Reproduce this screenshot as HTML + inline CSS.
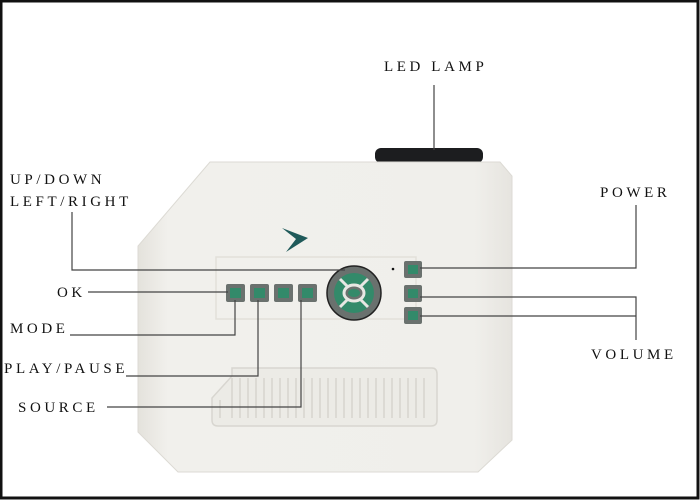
<!DOCTYPE html>
<html><head><style>
body{margin:0;background:#fff}
.wrap{position:relative;width:700px;height:500px;overflow:hidden;background:#fff}
svg{position:absolute;left:0;top:0}
text{font-family:"Liberation Serif",serif;font-size:15px;letter-spacing:3.6px;fill:#111}
</style></head><body><div class="wrap">
<svg width="700" height="500" viewBox="0 0 700 500">
<defs>
<linearGradient id="g" x1="0" y1="0" x2="1" y2="0">
<stop offset="0" stop-color="#e4e2dc"/><stop offset="0.08" stop-color="#f1f0ec"/><stop offset="0.9" stop-color="#f0efeb"/><stop offset="1" stop-color="#e6e4df"/></linearGradient>
</defs>
<rect x="1" y="1" width="697" height="497" fill="none" stroke="#111" stroke-width="3"/>
<rect x="375" y="148" width="108" height="15" rx="6" fill="#1c1d1f"/>
<polygon points="210,162 500,162 512,176 512,440 478,472 178,472 138,432 138,246" fill="url(#g)" stroke="#dcdad4" stroke-width="1"/>
<rect x="216" y="257" width="200" height="62" fill="none" stroke="#e2e0da" stroke-width="1.5"/>
<path d="M232,368 L432,368 Q437,368 437,374 L437,420 Q437,426 431,426 L218,426 Q212,426 212,420 L212,398 L232,376 Z" fill="#ecebe6" stroke="#d8d6d0" stroke-width="1.5"/>
<g stroke="#d6d4ce" stroke-width="1.5">
<line x1="232" y1="378" x2="232" y2="418"/><line x1="240" y1="378" x2="240" y2="418"/><line x1="248" y1="378" x2="248" y2="418"/><line x1="256" y1="378" x2="256" y2="418"/><line x1="264" y1="378" x2="264" y2="418"/><line x1="272" y1="378" x2="272" y2="418"/><line x1="280" y1="378" x2="280" y2="418"/><line x1="288" y1="378" x2="288" y2="418"/><line x1="296" y1="378" x2="296" y2="418"/><line x1="304" y1="378" x2="304" y2="418"/><line x1="312" y1="378" x2="312" y2="418"/><line x1="320" y1="378" x2="320" y2="418"/><line x1="328" y1="378" x2="328" y2="418"/><line x1="336" y1="378" x2="336" y2="418"/><line x1="344" y1="378" x2="344" y2="418"/><line x1="352" y1="378" x2="352" y2="418"/><line x1="360" y1="378" x2="360" y2="418"/><line x1="368" y1="378" x2="368" y2="418"/><line x1="376" y1="378" x2="376" y2="418"/><line x1="384" y1="378" x2="384" y2="418"/><line x1="392" y1="378" x2="392" y2="418"/><line x1="400" y1="378" x2="400" y2="418"/><line x1="408" y1="378" x2="408" y2="418"/><line x1="416" y1="378" x2="416" y2="418"/><line x1="424" y1="378" x2="424" y2="418"/><line x1="220" y1="400" x2="220" y2="418"/>
</g>
<polygon points="282,228 308,238 286,252 296,239" fill="#1f5a5a"/>
<g fill="#6a716e">
<rect x="226" y="284" width="19" height="18" rx="2"/><rect x="250" y="284" width="19" height="18" rx="2"/><rect x="274" y="284" width="19" height="18" rx="2"/><rect x="298" y="284" width="19" height="18" rx="2"/>
<rect x="404" y="261" width="18" height="17" rx="2"/><rect x="404" y="285" width="18" height="17" rx="2"/><rect x="404" y="307" width="18" height="17" rx="2"/>
</g>
<g fill="#338a6a">
<rect x="230" y="288" width="11" height="10"/><rect x="254" y="288" width="11" height="10"/><rect x="278" y="288" width="11" height="10"/><rect x="302" y="288" width="11" height="10"/>
<rect x="408" y="265" width="10" height="9"/><rect x="408" y="289" width="10" height="9"/><rect x="408" y="311" width="10" height="9"/>
</g>
<circle cx="354" cy="293" r="27" fill="#6a716e" stroke="#222" stroke-width="1.5"/>
<circle cx="354" cy="293" r="20" fill="#338a6a"/>
<g stroke="#e8e7e3" stroke-width="3"><line x1="340" y1="279" x2="368" y2="307"/><line x1="368" y1="279" x2="340" y2="307"/></g>
<ellipse cx="354" cy="293" rx="10" ry="8" fill="#6a716e" stroke="#e8e7e3" stroke-width="3"/>
<ellipse cx="354" cy="293" rx="6" ry="4" fill="#338a6a"/>
<circle cx="393" cy="269" r="1.3" fill="#111"/>
<g stroke="#444" stroke-width="1.2" fill="none">
<polyline points="434,85 434,150"/>
<polyline points="72,212 72,270 345,270"/>
<line x1="88" y1="292" x2="228" y2="292"/>
<polyline points="70,335 235,335 235,300"/>
<polyline points="126,376 258,376 258,300"/>
<polyline points="107,407 301,407 301,300"/>
<polyline points="420,268 636,268 636,205"/>
<polyline points="420,297 636,297 636,340"/>
<line x1="420" y1="316" x2="636" y2="316"/>
</g>
<text x="384" y="71">LED LAMP</text>
<text x="10" y="184">UP/DOWN</text>
<text x="10" y="206">LEFT/RIGHT</text>
<text x="57" y="297">OK</text>
<text x="10" y="333">MODE</text>
<text x="4" y="373">PLAY/PAUSE</text>
<text x="18" y="412">SOURCE</text>
<text x="600" y="197">POWER</text>
<text x="591" y="359">VOLUME</text>
</svg></div></body></html>
